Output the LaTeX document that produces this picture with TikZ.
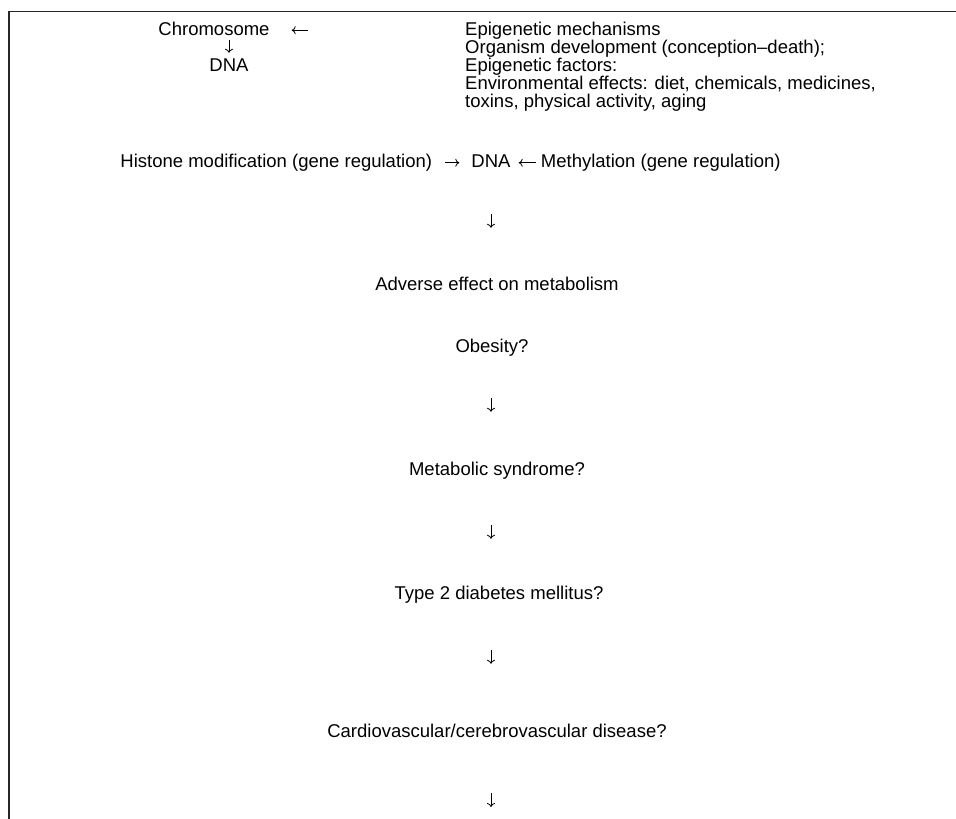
\documentclass[tikz,border=0pt]{standalone}
\usepackage{fontspec}
\setmainfont{Liberation Sans}
\usepackage{tikz}
\usetikzlibrary{arrows.meta,positioning}

\begin{document}
\begin{tikzpicture}[
  x=1pt,y=-1pt,
  txt/.style={inner sep=0pt,anchor=base,font=\fontsize{18.5}{18}\selectfont,text height=13.5pt,text depth=4pt},
  row/.style={txt,anchor=base west},
  arr/.style={-{To[length=4pt,width=8pt]},line width=0.8pt},
  frame/.style={line width=1.6pt,black!85}
]
\useasboundingbox (0,0) rectangle (956,819);

% Frame
\draw[frame] (956,11.5) -| (9,819);

% Chromosome
\node[txt] (chrom) at (214,35) {Chromosome};
\node[txt] (dna1) at (229,71) {DNA};

% Epigenetic mechanisms
\node[row] (epi1) at (465,35) {Epigenetic mechanisms};
\node[row] (epi2) at (465,53) {Organism development (conception--death);};
\node[row] (epi3) at (465,71) {Epigenetic factors:};
\node[row] (epi4) at (465,89) {Environmental effects: diet, chemicals, medicines,};
\node[row] (epi5) at (465,107) {toxins, physical activity, aging};

% Gene regulation
\node[txt] (dna2) at (491,167.5) {DNA};
\node[txt,left=39pt of dna2] (histone) {Histone modification (gene regulation)};
\node[txt,right=30pt of dna2] (methyl) {Methylation (gene regulation)};

% Outcomes
\node[txt] (adverse) at (497,290) {Adverse effect on metabolism};
\node[txt] (obesity) at (492,352) {Obesity?};
\node[txt] (metsyn) at (497,475) {Metabolic syndrome?};
\node[txt] (t2dm) at (499,599) {Type 2 diabetes mellitus?};
\node[txt] (cvd) at (497,737) {Cardiovascular/cerebrovascular disease?};
\coordinate (cont) at (491,807);

% Arrows
\draw[arr,shorten <=157pt,shorten >=22pt] (epi1) -- (chrom);
\draw[arr,shorten <=0.5pt,shorten >=4.5pt] (chrom.south -| dna1) -- (dna1);
\draw[arr,shorten <=13pt,shorten >=12pt] (histone) -- (dna2);
\draw[arr,shorten <=5pt,shorten >=8pt] (methyl) -- (dna2);

\draw[arr,shorten <=42.5pt,shorten >=48.5pt] (dna2) -- (dna2 |- adverse.north);
\draw[arr,shorten <=42pt,shorten >=49.5pt] (obesity.south -| dna2) -- (metsyn.north -| dna2);
\draw[arr,shorten <=46pt,shorten >=46.5pt] (metsyn.south -| dna2) -- (t2dm.north -| dna2);
\draw[arr,shorten <=47pt,shorten >=59.5pt] (t2dm.south -| dna2) -- (cvd.north -| dna2);
\draw[arr,shorten <=52pt] (cvd.south -| dna2) -- (cont);

\end{tikzpicture}
\end{document}
